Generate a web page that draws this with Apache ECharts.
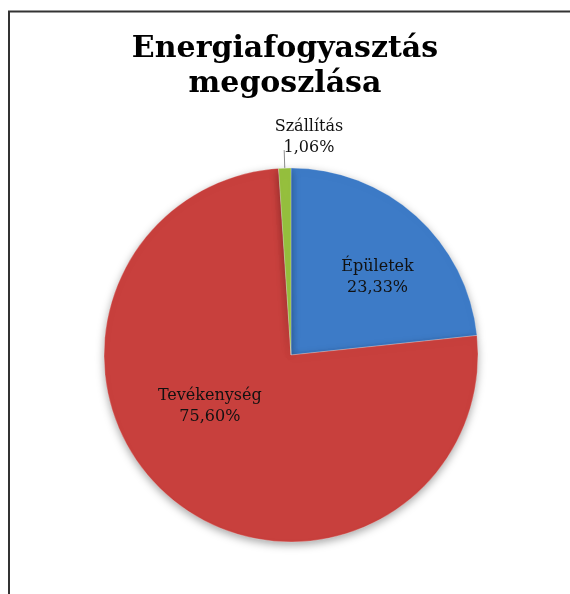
<!DOCTYPE html>
<html>
<head>
<meta charset="utf-8">
<script src="https://cdn.jsdelivr.net/npm/echarts@6/dist/echarts.min.js"></script>
<style>
  html, body { margin: 0; padding: 0; background: #fff; }
  #chart { width: 570px; height: 594px; }
</style>
</head>
<body>
<div id="chart"></div>
<script>
// data
const categories = ['Épületek', 'Tevékenység', 'Szállítás']
const shares = [23.33, 75.60, 1.06]
const colors = ['#3D7BC7', '#C8403D', '#96C03E']

const titleText = 'Energiafogyasztás\nmegoszlása'
const serif = "Georgia, 'DejaVu Serif', serif"

// label nudges so the texts sit where Excel put them
const labelOffsets = [[22, -6], [-19, -22], [64, -13]]

const chart = echarts.init(document.getElementById('chart'))

const pieData = categories.map((name, i) => {
  const item = {
    name: name,
    value: shares[i],
    itemStyle: { color: colors[i] },
    label: { offset: labelOffsets[i] }
  }
  if (i === 2) {
    item.label = { position: 'outside', offset: labelOffsets[i] }
    item.labelLine = { show: true, length: 18, length2: 0, lineStyle: { color: '#8c8c8c', width: 1 } }
  }
  return item
})

chart.setOption({
  animation: false,
  title: {
    text: titleText,
    left: 'center',
    top: 27,
    textStyle: {
      fontFamily: serif,
      fontWeight: 'bold',
      fontSize: 30,
      lineHeight: 35,
      color: '#000'
    }
  },
  graphic: [
    {
      type: 'polyline',
      silent: true,
      shape: { points: [[9, 600], [9, 11.5], [575, 11.5]] },
      style: { stroke: '#333', lineWidth: 2, fill: null }
    }
  ],
  series: [
    {
      type: 'pie',
      center: [291, 355],
      radius: 187,
      startAngle: 90,
      clockwise: true,
      avoidLabelOverlap: false,
      itemStyle: {
        borderColor: 'rgba(255,255,255,0.25)',
        borderWidth: 1,
        shadowBlur: 8,
        shadowOffsetY: 3,
        shadowColor: 'rgba(0,0,0,0.35)'
      },
      label: {
        show: true,
        position: 'inside',
        color: '#111',
        formatter: p => '{t|' + p.name + '}\n{t|' + p.value.toFixed(2).replace('.', ',') + '%}',
        rich: {
          t: { fontFamily: serif, fontSize: 16, lineHeight: 21, color: '#111', align: 'center' }
        }
      },
      labelLine: { show: false },
      data: pieData
    }
  ]
})
</script>
</body>
</html>
